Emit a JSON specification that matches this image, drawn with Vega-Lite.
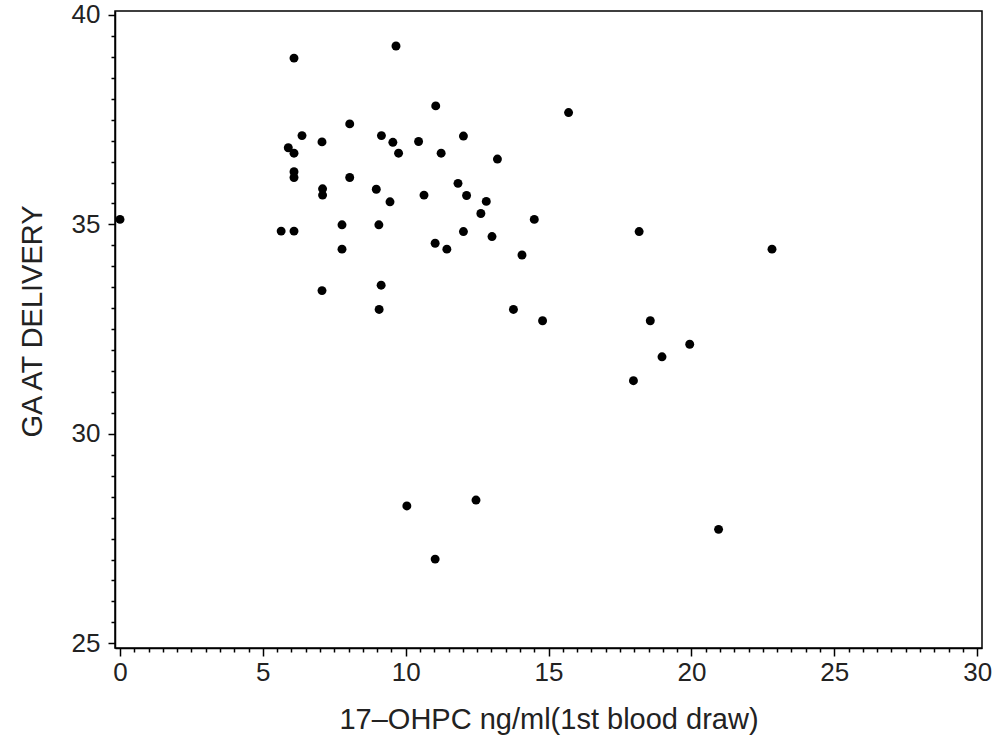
{
  "$schema": "https://vega.github.io/schema/vega-lite/v6.json",
  "autosize": "none",
  "width": 867,
  "height": 637,
  "padding": {"left": 115, "top": 11, "right": 16, "bottom": 102},
  "background": "white",
  "config": {
    "view": {"stroke": "black", "strokeWidth": 1.5},
    "font": "Liberation Sans",
    "axis": {
      "domainColor": "black",
      "domainWidth": 1.5,
      "tickColor": "black",
      "tickWidth": 1.5,
      "grid": false,
      "labelFont": "Liberation Sans",
      "labelFontSize": 26,
      "labelColor": "#222222",
      "titleFont": "Liberation Sans",
      "titleFontSize": 29,
      "titleFontWeight": "normal",
      "titleColor": "#222222"
    }
  },
  "data": {
    "values": [
      {"ohpc": 0.00, "ga": 35.12},
      {"ohpc": 6.09, "ga": 38.97},
      {"ohpc": 9.66, "ga": 39.26},
      {"ohpc": 11.05, "ga": 37.83},
      {"ohpc": 15.70, "ga": 37.67},
      {"ohpc": 8.04, "ga": 37.40},
      {"ohpc": 6.37, "ga": 37.12},
      {"ohpc": 7.07, "ga": 36.97},
      {"ohpc": 5.89, "ga": 36.83},
      {"ohpc": 6.09, "ga": 36.70},
      {"ohpc": 9.15, "ga": 37.12},
      {"ohpc": 9.55, "ga": 36.96},
      {"ohpc": 10.45, "ga": 36.98},
      {"ohpc": 9.75, "ga": 36.70},
      {"ohpc": 12.02, "ga": 37.11},
      {"ohpc": 11.24, "ga": 36.70},
      {"ohpc": 13.21, "ga": 36.56},
      {"ohpc": 6.09, "ga": 36.26},
      {"ohpc": 6.09, "ga": 36.12},
      {"ohpc": 8.04, "ga": 36.12},
      {"ohpc": 7.09, "ga": 35.85},
      {"ohpc": 7.09, "ga": 35.70},
      {"ohpc": 8.97, "ga": 35.84},
      {"ohpc": 9.45, "ga": 35.54},
      {"ohpc": 10.64, "ga": 35.70},
      {"ohpc": 11.83, "ga": 35.98},
      {"ohpc": 12.13, "ga": 35.69},
      {"ohpc": 12.82, "ga": 35.55},
      {"ohpc": 12.63, "ga": 35.26},
      {"ohpc": 14.50, "ga": 35.12},
      {"ohpc": 7.77, "ga": 34.99},
      {"ohpc": 9.06, "ga": 34.99},
      {"ohpc": 5.64, "ga": 34.84},
      {"ohpc": 6.09, "ga": 34.84},
      {"ohpc": 12.02, "ga": 34.83},
      {"ohpc": 11.03, "ga": 34.55},
      {"ohpc": 11.44, "ga": 34.41},
      {"ohpc": 13.02, "ga": 34.71},
      {"ohpc": 14.07, "ga": 34.27},
      {"ohpc": 7.77, "ga": 34.41},
      {"ohpc": 18.17, "ga": 34.83},
      {"ohpc": 22.82, "ga": 34.41},
      {"ohpc": 7.07, "ga": 33.42},
      {"ohpc": 9.14, "ga": 33.55},
      {"ohpc": 9.07, "ga": 32.97},
      {"ohpc": 13.77, "ga": 32.97},
      {"ohpc": 14.79, "ga": 32.70},
      {"ohpc": 18.56, "ga": 32.70},
      {"ohpc": 19.94, "ga": 32.14},
      {"ohpc": 18.97, "ga": 31.84},
      {"ohpc": 17.97, "ga": 31.27},
      {"ohpc": 20.95, "ga": 27.72},
      {"ohpc": 10.04, "ga": 28.28},
      {"ohpc": 12.46, "ga": 28.42},
      {"ohpc": 11.03, "ga": 27.01}
    ]
  },
  "mark": {"type": "circle", "color": "black", "opacity": 1, "size": 80},
  "encoding": {
    "x": {
      "field": "ohpc",
      "type": "quantitative",
      "scale": {"domain": [-0.175, 30.17], "nice": false, "zero": false},
      "axis": {
        "title": "17–OHPC ng/ml(1st blood draw)",
        "values": [0,0.5,1,1.5,2,2.5,3,3.5,4,4.5,5,5.5,6,6.5,7,7.5,8,8.5,9,9.5,10,10.5,11,11.5,12,12.5,13,13.5,14,14.5,15,15.5,16,16.5,17,17.5,18,18.5,19,19.5,20,20.5,21,21.5,22,22.5,23,23.5,24,24.5,25,25.5,26,26.5,27,27.5,28,28.5,29,29.5,30],
        "labelExpr": "datum.value % 5 === 0 ? format(datum.value, 'd') : ''",
        "tickSize": {"condition": {"test": "datum.value % 5 === 0", "value": 8}, "value": 4},
        "labelPadding": 3,
        "labelFlush": false,
        "labelOverlap": false,
        "titlePadding": 20
      }
    },
    "y": {
      "field": "ga",
      "type": "quantitative",
      "scale": {"domain": [24.888, 40.095], "nice": false, "zero": false},
      "axis": {
        "title": "GA AT DELIVERY",
        "values": [25,25.5,26,26.5,27,27.5,28,28.5,29,29.5,30,30.5,31,31.5,32,32.5,33,33.5,34,34.5,35,35.5,36,36.5,37,37.5,38,38.5,39,39.5,40],
        "labelExpr": "datum.value % 5 === 0 ? format(datum.value, 'd') : ''",
        "tickSize": {"condition": {"test": "datum.value % 5 === 0", "value": 7}, "value": 4},
        "labelPadding": 8,
        "labelFlush": false,
        "labelOverlap": false,
        "titlePadding": 24,
        "titleY": 310
      }
    }
  }
}
